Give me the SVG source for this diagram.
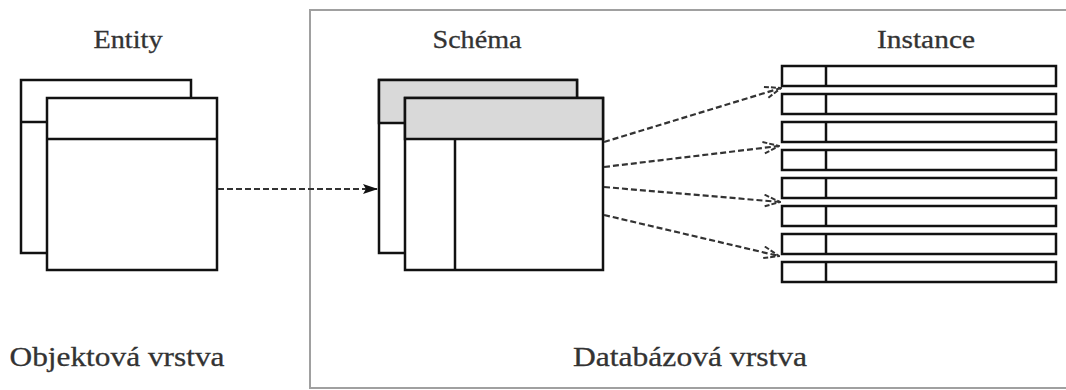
<svg xmlns="http://www.w3.org/2000/svg" width="1066" height="390" viewBox="0 0 1066 390">
  <defs>
    <style>
      .lbl { font-family: "Liberation Serif", "DejaVu Serif", serif; fill: #333; text-anchor: middle; stroke: #333; stroke-width: 0.3; }
      .box { fill: #fff; stroke: #111; stroke-width: 2.5; }
      .hdr { fill: #d9d9d9; stroke: #111; stroke-width: 2.5; }
      .ln { stroke: #111; stroke-width: 2.5; fill: none; }
      .row { fill: #fff; stroke: #111; stroke-width: 2.5; }
      .conn { stroke: #333; stroke-width: 2.2; fill: none; stroke-dasharray: 6 3; }
    </style>
    <marker id="filled" markerWidth="16" markerHeight="12" refX="15" refY="6" orient="auto" markerUnits="userSpaceOnUse">
      <path d="M0,1 L15,6 L0,11 L3,6 Z" fill="#111"/>
    </marker>
    <marker id="open" markerWidth="18" markerHeight="14" refX="17" refY="7" orient="auto" markerUnits="userSpaceOnUse">
      <path d="M1,1 L17,7 L1,13" fill="none" stroke="#333" stroke-width="2" stroke-dasharray="5 2"/>
    </marker>
  </defs>

  <rect id="db-frame" x="310" y="10" width="800" height="378" fill="none" stroke="#a0a0a0" stroke-width="2"/>

  <g id="entity">
    <text class="lbl" x="128" y="48" font-size="25" textLength="69" lengthAdjust="spacingAndGlyphs">Entity</text>
    <rect class="box" x="21" y="80" width="170" height="173"/>
    <line class="ln" x1="21" y1="122" x2="47" y2="122"/>
    <rect class="box" x="47" y="98" width="170" height="172"/>
    <line class="ln" x1="47" y1="139" x2="217" y2="139"/>
  </g>

  <g id="schema">
    <text class="lbl" x="477" y="48" font-size="25" textLength="89" lengthAdjust="spacingAndGlyphs">Schéma</text>
    <rect class="box" x="379" y="80" width="198" height="173"/>
    <rect class="hdr" x="379" y="80" width="198" height="43"/>
    <rect class="box" x="405" y="98" width="198" height="172"/>
    <rect class="hdr" x="405" y="98" width="198" height="41"/>
    <line class="ln" x1="455" y1="139" x2="455" y2="270"/>
  </g>

  <g id="instance">
    <text class="lbl" x="926" y="48" font-size="25" textLength="98" lengthAdjust="spacingAndGlyphs">Instance</text>
    <rect class="row" x="782" y="66" width="274" height="20"/>
    <line class="ln" x1="826" y1="66" x2="826" y2="86"/>
    <rect class="row" x="782" y="94" width="274" height="20"/>
    <line class="ln" x1="826" y1="94" x2="826" y2="114"/>
    <rect class="row" x="782" y="122" width="274" height="20"/>
    <line class="ln" x1="826" y1="122" x2="826" y2="142"/>
    <rect class="row" x="782" y="150" width="274" height="20"/>
    <line class="ln" x1="826" y1="150" x2="826" y2="170"/>
    <rect class="row" x="782" y="178" width="274" height="20"/>
    <line class="ln" x1="826" y1="178" x2="826" y2="198"/>
    <rect class="row" x="782" y="206" width="274" height="20"/>
    <line class="ln" x1="826" y1="206" x2="826" y2="226"/>
    <rect class="row" x="782" y="234" width="274" height="20"/>
    <line class="ln" x1="826" y1="234" x2="826" y2="254"/>
    <rect class="row" x="782" y="262" width="274" height="20"/>
    <line class="ln" x1="826" y1="262" x2="826" y2="282"/>
  </g>

  <g id="layer-labels">
    <text class="lbl" x="117" y="366" font-size="28" textLength="215" lengthAdjust="spacingAndGlyphs">Objektová vrstva</text>
    <text class="lbl" x="690" y="366" font-size="28" textLength="234" lengthAdjust="spacingAndGlyphs">Databázová vrstva</text>
  </g>

  <g id="connectors">
    <line class="conn" x1="218" y1="189" x2="378" y2="189" marker-end="url(#filled)"/>
    <line class="conn" x1="604" y1="142" x2="781" y2="88" marker-end="url(#open)"/>
    <line class="conn" x1="604" y1="167" x2="779" y2="146" marker-end="url(#open)"/>
    <line class="conn" x1="604" y1="187" x2="780" y2="202" marker-end="url(#open)"/>
    <line class="conn" x1="604" y1="215" x2="779" y2="256" marker-end="url(#open)"/>
  </g>
</svg>
